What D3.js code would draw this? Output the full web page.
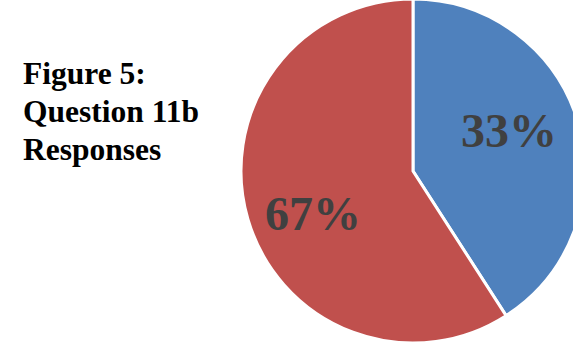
<!DOCTYPE html>
<html><head><meta charset="utf-8">
<script src="https://cdn.jsdelivr.net/npm/d3@7/dist/d3.min.js"></script>
<style>html,body{margin:0;padding:0;background:#fff;overflow:hidden}</style>
</head><body>
<script>
const categories = ["A", "B"];
const sliceValues = [40.9, 59.1];
const sliceLabels = ["33%", "67%"];
const titleLines = ["Figure 5:", "Question 11b", "Responses"];
const colors = ["#4F81BD", "#C0504D"];

const W = 573, H = 353;
const svg = d3.select("body").append("svg").attr("width", W).attr("height", H);

const cx = 413, cy = 171, R = 172;
const pie = d3.pie().sort(null).value(d => d)(sliceValues);
const arc = d3.arc().innerRadius(0).outerRadius(R);
const g = svg.append("g").attr("transform", `translate(${cx},${cy})`);
g.selectAll("path").data(pie).join("path")
  .attr("d", arc)
  .attr("fill", (d, i) => colors[i])
  .attr("stroke", "#fff").attr("stroke-width", 3).attr("stroke-linejoin", "miter");

const labelArc = d3.arc().innerRadius(100).outerRadius(100);
const nudge = [[0, 4], [-4, 31]];
g.selectAll("text.lbl").data(pie).join("text")
  .attr("class", "lbl")
  .attr("x", (d, i) => labelArc.centroid(d)[0] + nudge[i][0])
  .attr("y", (d, i) => labelArc.centroid(d)[1] + nudge[i][1])
  .attr("text-anchor", "middle")
  .attr("font-family", "Liberation Serif, Times New Roman, serif")
  .attr("font-weight", "bold").attr("font-size", 48)
  .attr("fill", "#404040")
  .text((d, i) => sliceLabels[i]);

svg.append("g").selectAll("text").data(titleLines).join("text")
  .attr("x", 23).attr("y", (d, i) => 84 + i * 38)
  .attr("font-family", "Liberation Serif, Times New Roman, serif")
  .attr("font-weight", "bold").attr("font-size", 31.5)
  .attr("fill", "#000")
  .text(d => d);
</script>
</body></html>
